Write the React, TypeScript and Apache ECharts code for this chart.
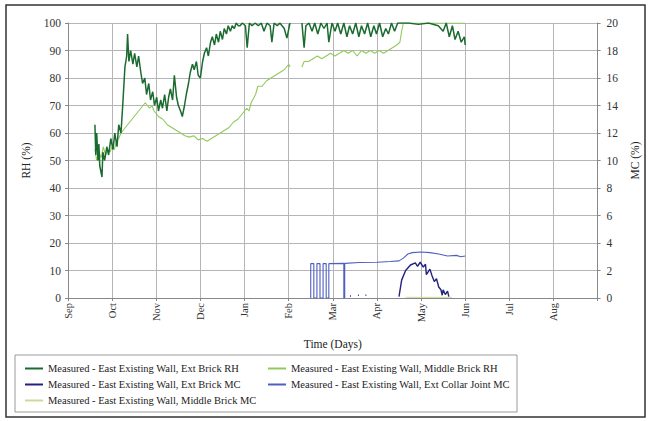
import React, { useEffect, useRef } from "react";
import * as echarts from "echarts";

const monthLabels = ["Sep", "Oct", "Nov", "Dec", "Jan", "Feb", "Mar", "Apr", "May", "Jun", "Jul", "Aug"];
const rhTicks = { min: 0, max: 100, interval: 10 };
const mcTicks = { min: 0, max: 20, interval: 2 };

const seriesNames = [
  "Measured - East Existing Wall, Ext Brick RH",
  "Measured - East Existing Wall, Middle Brick RH",
  "Measured - East Existing Wall, Ext Brick MC",
  "Measured - East Existing Wall, Ext Collar Joint MC",
  "Measured - East Existing Wall, Middle Brick MC",
];

// x = months since Sep 1
const extBrickRH: (number | string)[][] = [
  [0.61, 63], [0.63, 52], [0.65, 60], [0.68, 50], [0.7, 56], [0.72, 48], [0.77, 44], [0.79, 53],
  [0.83, 50], [0.88, 55], [0.92, 52], [0.97, 58], [1.02, 54], [1.06, 60], [1.11, 55], [1.15, 63],
  [1.2, 60], [1.24, 70], [1.29, 84], [1.33, 88], [1.35, 96], [1.38, 86], [1.42, 90], [1.47, 85],
  [1.51, 89], [1.56, 84], [1.6, 88], [1.65, 82], [1.69, 78], [1.74, 80], [1.78, 74], [1.83, 78],
  [1.87, 72], [1.92, 75], [1.96, 70], [2.01, 73], [2.05, 68], [2.1, 72], [2.14, 69], [2.19, 74],
  [2.24, 68], [2.28, 73], [2.32, 76], [2.37, 72], [2.41, 81], [2.46, 73], [2.5, 70], [2.55, 68],
  [2.59, 66], [2.64, 70], [2.68, 74], [2.73, 78], [2.77, 82], [2.82, 85], [2.86, 83], [2.91, 86],
  [2.95, 81], [3.0, 80], [3.05, 86], [3.09, 89], [3.14, 91], [3.18, 88], [3.23, 93], [3.27, 95],
  [3.32, 92], [3.36, 96], [3.41, 93], [3.45, 97], [3.5, 94], [3.54, 98], [3.59, 96], [3.63, 99],
  [3.68, 97], [3.72, 99], [3.77, 98], [3.81, 100], [3.86, 99], [3.9, 99], [3.95, 100], [4.02, 99],
  [4.06, 91], [4.11, 100], [4.17, 99], [4.24, 100], [4.31, 99], [4.38, 100], [4.44, 97], [4.51, 100],
  [4.58, 99], [4.62, 93], [4.67, 100], [4.74, 99], [4.8, 100], [4.9, 98], [4.96, 94.5], [5.03, 100],
  [5.15, "-"],
  [5.3, 100], [5.35, 91], [5.39, 99], [5.46, 100], [5.53, 97], [5.59, 100], [5.66, 96], [5.73, 100],
  [5.8, 98], [5.87, 100], [5.91, 93], [5.98, 100], [6.05, 97], [6.11, 100], [6.18, 96], [6.25, 100],
  [6.32, 95], [6.38, 99], [6.45, 96], [6.52, 100], [6.59, 95], [6.65, 99], [6.72, 96], [6.79, 100],
  [6.86, 95], [6.93, 99], [6.99, 96], [7.06, 100], [7.13, 95], [7.2, 98], [7.26, 96], [7.33, 100],
  [7.4, 97], [7.47, 100], [7.56, 100], [7.71, 100], [7.94, 99.5], [8.17, 100], [8.39, 99], [8.5, 97],
  [8.57, 100], [8.64, 95], [8.71, 99], [8.77, 94], [8.84, 97], [8.91, 93], [8.98, 95], [9.0, 92],
];

const middleBrickRH: (number | string)[][] = [
  [0.61, 54], [0.65, 50], [0.7, 53], [0.75, 51], [0.8, 55], [0.85, 52], [0.9, 54], [0.95, 53],
  [1.0, 55], [1.05, 54], [1.1, 57], [1.15, 58], [1.2, 60], [1.25, 61], [1.3, 62], [1.4, 64],
  [1.5, 66], [1.6, 68], [1.7, 70], [1.75, 71], [1.8, 70], [1.85, 69], [1.9, 70], [1.95, 68],
  [2.05, 66], [2.15, 65], [2.25, 63], [2.35, 62], [2.45, 61], [2.55, 60], [2.65, 59], [2.75, 58.5],
  [2.85, 59], [2.95, 57.5], [3.05, 58], [3.15, 57], [3.25, 58], [3.35, 59], [3.45, 60], [3.55, 61],
  [3.65, 62], [3.75, 64], [3.85, 65], [3.95, 67], [4.05, 69], [4.1, 68], [4.15, 71], [4.25, 74],
  [4.3, 77], [4.4, 77], [4.5, 79], [4.6, 80], [4.7, 81], [4.8, 82], [4.9, 83], [5.0, 85], [5.03, 84],
  [5.15, "-"],
  [5.3, 84], [5.35, 86], [5.45, 86], [5.55, 87], [5.65, 88], [5.75, 87], [5.85, 88], [5.95, 89],
  [6.05, 88], [6.15, 89], [6.25, 90], [6.35, 89], [6.45, 90], [6.55, 88], [6.65, 90], [6.75, 89],
  [6.85, 90], [6.95, 89], [7.05, 90], [7.15, 89], [7.25, 90], [7.35, 91], [7.45, 92], [7.52, 93],
  [7.56, 97], [7.6, 100], [8.0, 100], [8.5, 100], [9.0, 100],
];

const extBrickMC: (number | string)[][] = [
  [6.39, 0.15], [6.41, 0.15], [6.5, "-"], [6.57, 0.2], [6.59, 0.2], [6.66, "-"], [6.74, 0.2], [6.76, 0.2],
  [7.2, "-"],
  [7.5, 0.1], [7.56, 1.3], [7.65, 2.0], [7.76, 2.4], [7.87, 2.55], [7.92, 2.3], [7.98, 2.6], [8.05, 2.25],
  [8.1, 2.45], [8.12, 1.7], [8.2, 2.1], [8.25, 1.6], [8.3, 1.2], [8.35, 1.4], [8.4, 0.8], [8.45, 0.6],
  [8.48, 0.2], [8.5, 0.6], [8.55, 0.25], [8.6, 0.5], [8.63, 0.1],
];

const extCollarJointMC: (number | string)[][] = [
  [5.5, 0], [5.5, 2.5], [5.57, 2.5], [5.57, 0], [5.64, 0], [5.64, 2.5], [5.71, 2.5], [5.71, 0],
  [5.78, 0], [5.78, 2.5], [5.85, 2.5], [5.85, 0], [5.91, 0], [5.91, 2.5], [6.25, 2.52], [6.25, 0],
  [6.27, 0], [6.27, 2.52], [6.6, 2.58], [7.0, 2.6], [7.3, 2.65], [7.5, 2.7], [7.6, 2.9], [7.7, 3.2],
  [7.8, 3.3], [8.0, 3.35], [8.2, 3.3], [8.4, 3.2], [8.6, 3.05], [8.8, 3.1], [8.9, 3.0], [9.0, 3.05],
];

const middleBrickMC: (number | string)[][] = [
  [7.65, 0.05], [8.0, 0.05], [8.3, 0.05], [8.7, 0.05],
];

const FONT = "Liberation Serif";

export default function App() {
  const ref = useRef<HTMLDivElement>(null);
  useEffect(() => {
    if (!ref.current) return;
    const chart = echarts.init(ref.current, undefined, { renderer: "svg" });
    const colors = ["#1b6b30", "#92c95c", "#23237e", "#4e5fc0", "#c8dc98"];
    const datas = [extBrickRH, middleBrickRH, extBrickMC, extCollarJointMC, middleBrickMC];
    const yIdx = [0, 0, 1, 1, 1];
    const widths = [1.5, 1.1, 1.4, 1.1, 1];
    const legendCommon = {
      orient: "vertical" as const,
      top: 358,
      itemGap: 5,
      itemWidth: 18,
      itemHeight: 2,
      icon: "rect",
      textStyle: { fontFamily: FONT, fontSize: 10.5, color: "#222" },
    };
    chart.setOption({
      animation: false,
      backgroundColor: "#fff",
      textStyle: { fontFamily: FONT },
      grid: { left: 68, right: 49, top: 23, bottom: 123 },
      xAxis: {
        type: "value",
        min: 0,
        max: 12,
        interval: 1,
        name: "Time (Days)",
        nameLocation: "middle",
        nameGap: 40,
        nameTextStyle: { fontFamily: FONT, fontSize: 11.5, color: "#222" },
        axisLine: { lineStyle: { color: "#888" } },
        axisTick: { show: true, length: 3, lineStyle: { color: "#888" } },
        splitLine: { show: true, lineStyle: { color: "#b5b5b5", width: 1 } },
        axisLabel: {
          rotate: 90,
          margin: 5,
          fontFamily: FONT,
          fontSize: 10.5,
          color: "#333",
          formatter: (v: number) => (v >= 0 && v < 12 ? monthLabels[Math.round(v)] : ""),
        },
      },
      yAxis: [
        {
          type: "value",
          ...rhTicks,
          name: "RH (%)",
          nameLocation: "middle",
          nameRotate: 90,
          nameGap: 36,
          nameTextStyle: { fontFamily: FONT, fontSize: 11.5, color: "#222" },
          axisLine: { show: true, lineStyle: { color: "#888" } },
          axisTick: { show: true, length: 3, lineStyle: { color: "#888" } },
          splitLine: { show: true, lineStyle: { color: "#b5b5b5", width: 1 } },
          axisLabel: { margin: 7, fontFamily: FONT, fontSize: 11.5, color: "#333" },
        },
        {
          type: "value",
          ...mcTicks,
          position: "right",
          name: "MC (%)",
          nameLocation: "middle",
          nameRotate: 90,
          nameGap: 30,
          nameTextStyle: { fontFamily: FONT, fontSize: 11.5, color: "#222" },
          axisLine: { show: true, lineStyle: { color: "#888" } },
          axisTick: { show: true, length: 3, lineStyle: { color: "#888" } },
          splitLine: { show: false },
          axisLabel: { margin: 9, fontFamily: FONT, fontSize: 11.5, color: "#333" },
        },
      ],
      legend: [
        { ...legendCommon, left: 20, data: [seriesNames[0], seriesNames[2], seriesNames[4]] },
        { ...legendCommon, left: 263, data: [seriesNames[1], seriesNames[3]] },
      ],
      graphic: [
        {
          type: "rect",
          shape: { x: 6, y: 5, width: 639, height: 412 },
          style: { fill: "none", stroke: "#333", lineWidth: 1.5 },
          silent: true,
        },
        {
          type: "rect",
          shape: { x: 15, y: 355, width: 502, height: 57 },
          style: { fill: "none", stroke: "#9a9a9a", lineWidth: 1 },
          silent: true,
        },
      ],
      series: seriesNames.map((name, i) => ({
        name,
        type: "line",
        yAxisIndex: yIdx[i],
        data: datas[i],
        showSymbol: false,
        symbol: "none",
        connectNulls: false,
        color: colors[i],
        lineStyle: { color: colors[i], width: widths[i] },
        z: [3, 2, 4, 3, 1][i],
      })),
    });
    return () => chart.dispose();
  }, []);
  return (
    <div
      ref={ref}
      style={{ position: "fixed", left: 0, top: 0, width: 649, height: 421, background: "#fff" }}
    />
  );
}
